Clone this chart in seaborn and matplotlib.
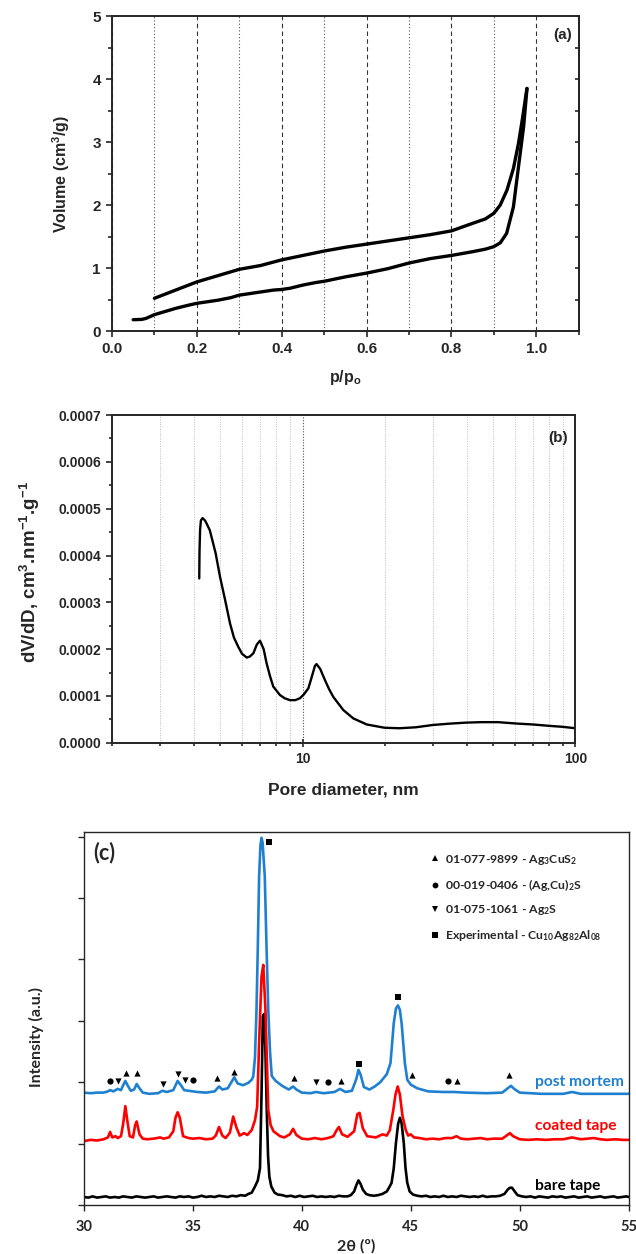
"""
plot.py

Three stacked panels: (a) N2 sorption isotherm, (b) BJH pore size distribution,
(c) XRD patterns of bare / coated / post mortem tape. Saved as out.png.
"""

import matplotlib
matplotlib.use("Agg")
import matplotlib.pyplot as plt
from matplotlib.lines import Line2D
from matplotlib.ticker import MultipleLocator, LogLocator, NullFormatter, FormatStrFormatter
import seaborn as sns

# ---------------- (a) isotherm ----------------
p_ads = [0.05, 0.07, 0.08, 0.10, 0.12, 0.15, 0.18, 0.20, 0.23, 0.25, 0.28, 0.30, 0.33, 0.35,
         0.38, 0.40, 0.42, 0.45, 0.48, 0.50, 0.55, 0.60, 0.65, 0.70, 0.75, 0.80, 0.85, 0.88,
         0.90, 0.915, 0.93, 0.946, 0.958, 0.97, 0.978]
v_ads = [0.18, 0.185, 0.20, 0.26, 0.30, 0.36, 0.41, 0.44, 0.47, 0.49, 0.53, 0.57, 0.60, 0.62,
         0.65, 0.66, 0.68, 0.73, 0.77, 0.79, 0.86, 0.92, 0.99, 1.08, 1.15, 1.20, 1.26, 1.30,
         1.34, 1.40, 1.55, 1.97, 2.61, 3.24, 3.85]
p_des = [0.978, 0.976, 0.968, 0.958, 0.946, 0.931, 0.915, 0.90, 0.88, 0.85, 0.80, 0.75, 0.70,
         0.65, 0.60, 0.55, 0.50, 0.45, 0.40, 0.35, 0.30, 0.25, 0.20, 0.15, 0.10]
v_des = [3.85, 3.77, 3.40, 2.98, 2.58, 2.24, 2.00, 1.87, 1.78, 1.71, 1.59, 1.53, 1.48,
         1.43, 1.38, 1.33, 1.27, 1.20, 1.13, 1.04, 0.98, 0.88, 0.78, 0.65, 0.52]

# ---------------- (b) pore size distribution ----------------
pore_d = [4.18, 4.19, 4.21, 4.24, 4.30, 4.40, 4.57, 4.80, 4.98, 5.20, 5.42, 5.60, 5.81, 6.00,
          6.24, 6.40, 6.60, 6.80, 6.98, 7.20, 7.38, 7.60, 7.81, 8.26, 8.60, 8.99, 9.40, 9.78,
          10.1, 10.5, 10.8, 11.1, 11.25, 11.6, 12.08, 12.5, 12.96, 14.1, 15.35, 17.2, 20.0,
          22.7, 26.0, 30.1, 35.0, 39.9, 45.4, 52.0, 61.0, 70.0, 80.7, 90.0, 100.0]
dv_dd = [3.51, 4.10, 4.55, 4.75, 4.80, 4.74, 4.54, 4.05, 3.55, 3.05, 2.55, 2.25, 2.05, 1.90,
         1.82, 1.84, 1.91, 2.10, 2.18, 2.00, 1.70, 1.42, 1.20, 1.02, 0.95, 0.91, 0.91, 0.95,
         1.03, 1.16, 1.40, 1.64, 1.68, 1.58, 1.34, 1.15, 0.98, 0.70, 0.52, 0.39, 0.32,
         0.31, 0.33, 0.38, 0.41, 0.43, 0.44, 0.44, 0.41, 0.39, 0.36, 0.34, 0.31]
dv_dd = [v * 1e-4 for v in dv_dd]

# ---------------- (c) XRD ----------------
bare_tape = [
    (30.0, .13), (30.2, .12), (30.4, .14), (30.6, .12), (30.8, .13), (31.0, .14), (31.2, .12),
    (31.4, .13), (31.6, .12), (31.8, .14), (32.0, .13), (32.2, .12), (32.4, .14), (32.6, .13),
    (32.8, .12), (33.0, .13), (33.2, .14), (33.4, .12), (33.6, .13), (33.8, .14), (34.0, .13),
    (34.2, .12), (34.4, .14), (34.6, .13), (34.8, .14), (35.0, .12), (35.2, .13), (35.4, .15),
    (35.6, .13), (35.8, .14), (36.0, .13), (36.2, .15), (36.4, .14), (36.6, .13), (36.8, .15),
    (37.0, .14), (37.2, .16), (37.4, .15), (37.55, .18), (37.7, .20), (37.85, .30), (37.98, .40),
    (38.08, .60), (38.15, 1.80), (38.21, 3.07), (38.27, 3.11), (38.33, 2.50), (38.39, 1.55),
    (38.45, .80), (38.51, .46), (38.6, .30), (38.75, .20), (38.9, .17), (39.1, .16), (39.3, .14),
    (39.5, .15), (39.7, .13), (39.9, .15), (40.1, .13), (40.3, .14), (40.5, .15), (40.7, .13),
    (40.9, .14), (41.1, .13), (41.3, .14), (41.5, .13), (41.7, .15), (41.9, .14), (42.1, .14),
    (42.25, .16), (42.4, .22), (42.5, .32), (42.6, .40), (42.7, .34), (42.8, .25), (42.95, .18),
    (43.1, .16), (43.3, .15), (43.5, .16), (43.7, .18), (43.9, .22), (44.0, .28), (44.12, .36),
    (44.22, .60), (44.32, 1.01), (44.42, 1.32), (44.5, 1.42), (44.58, 1.33), (44.68, 1.01),
    (44.76, .60), (44.84, .36), (44.95, .22), (45.1, .17), (45.3, .15), (45.5, .14), (45.7, .15),
    (45.9, .13), (46.1, .14), (46.3, .13), (46.5, .15), (46.7, .13), (46.9, .14), (47.1, .13),
    (47.3, .15), (47.5, .14), (47.7, .13), (47.9, .14), (48.1, .13), (48.3, .15), (48.5, .13),
    (48.7, .14), (48.9, .14), (49.1, .15), (49.3, .18), (49.45, .25), (49.55, .28), (49.65, .28),
    (49.75, .23), (49.9, .16), (50.1, .14), (50.3, .13), (50.5, .14), (50.7, .12), (50.9, .14),
    (51.1, .13), (51.3, .12), (51.5, .14), (51.7, .13), (51.9, .14), (52.1, .12), (52.3, .13),
    (52.5, .14), (52.7, .12), (52.9, .13), (53.1, .14), (53.3, .12), (53.5, .13), (53.7, .14),
    (53.9, .12), (54.1, .13), (54.3, .14), (54.5, .12), (54.7, .13), (54.9, .14), (55.0, .13),
]
coated_tape = [
    (30.0, 1.04), (30.3, 1.06), (30.6, 1.05), (30.9, 1.07), (31.1, 1.10), (31.2, 1.19), (31.3, 1.10),
    (31.45, 1.12), (31.55, 1.09), (31.7, 1.12), (31.8, 1.32), (31.9, 1.61), (32.0, 1.35), (32.1, 1.12),
    (32.25, 1.10), (32.35, 1.30), (32.42, 1.36), (32.55, 1.15), (32.7, 1.08), (32.9, 1.07), (33.2, 1.08),
    (33.5, 1.10), (33.65, 1.08), (33.9, 1.10), (34.1, 1.20), (34.2, 1.42), (34.3, 1.51), (34.4, 1.42),
    (34.55, 1.12), (34.8, 1.09), (35.0, 1.08), (35.3, 1.09), (35.6, 1.07), (35.9, 1.08), (36.05, 1.13),
    (36.2, 1.27), (36.35, 1.13), (36.5, 1.09), (36.7, 1.18), (36.85, 1.44), (37.0, 1.26), (37.15, 1.13),
    (37.35, 1.17), (37.5, 1.14), (37.7, 1.22), (37.85, 1.38), (37.95, 1.60), (38.04, 2.64), (38.15, 3.72),
    (38.23, 3.91), (38.33, 3.18), (38.46, 1.55), (38.57, 1.30), (38.7, 1.20), (38.85, 1.16), (39.0, 1.12),
    (39.2, 1.10), (39.45, 1.15), (39.6, 1.24), (39.75, 1.14), (40.0, 1.08), (40.3, 1.07), (40.6, 1.09),
    (40.9, 1.07), (41.2, 1.09), (41.45, 1.12), (41.6, 1.22), (41.7, 1.27), (41.85, 1.15), (42.1, 1.11),
    (42.4, 1.20), (42.55, 1.48), (42.65, 1.50), (42.8, 1.25), (43.0, 1.12), (43.2, 1.11), (43.4, 1.10),
    (43.7, 1.15), (43.9, 1.13), (44.04, 1.22), (44.2, 1.55), (44.3, 1.80), (44.4, 1.93), (44.5, 1.80),
    (44.62, 1.45), (44.77, 1.22), (44.88, 1.13), (45.0, 1.15), (45.15, 1.10), (45.4, 1.09), (45.7, 1.07),
    (46.0, 1.08), (46.3, 1.07), (46.6, 1.09), (46.9, 1.09), (47.1, 1.12), (47.3, 1.08), (47.6, 1.07),
    (47.9, 1.08), (48.2, 1.09), (48.5, 1.07), (48.8, 1.08), (49.2, 1.08), (49.4, 1.13), (49.55, 1.17),
    (49.7, 1.12), (50.0, 1.07), (50.4, 1.06), (50.8, 1.07), (51.2, 1.06), (51.6, 1.07), (52.0, 1.07),
    (52.4, 1.10), (52.8, 1.07), (53.1, 1.08), (53.4, 1.09), (53.7, 1.07), (54.0, 1.06), (54.4, 1.07),
    (54.7, 1.06), (55.0, 1.06),
]
post_mortem = [
    (30.0, 1.83), (30.3, 1.82), (30.6, 1.83), (30.9, 1.83), (31.1, 1.85), (31.2, 1.87), (31.35, 1.85),
    (31.55, 1.89), (31.7, 1.87), (31.8, 1.95), (31.9, 2.02), (32.0, 1.95), (32.15, 1.86), (32.3, 1.88),
    (32.42, 1.97), (32.55, 1.90), (32.7, 1.83), (33.0, 1.81), (33.4, 1.82), (33.6, 1.86), (33.8, 1.84),
    (34.1, 1.87), (34.3, 2.02), (34.45, 1.95), (34.6, 1.87), (34.8, 1.86), (35.2, 1.84), (35.6, 1.83),
    (36.0, 1.85), (36.2, 1.93), (36.35, 1.88), (36.6, 1.90), (36.8, 2.02), (36.9, 2.08), (37.05, 1.98),
    (37.3, 1.95), (37.55, 1.99), (37.7, 2.04), (37.77, 2.09), (37.85, 2.40), (37.92, 3.18), (37.98, 4.20),
    (38.04, 5.35), (38.1, 5.85), (38.15, 5.98), (38.2, 5.90), (38.3, 5.35), (38.38, 4.20), (38.46, 3.18),
    (38.54, 2.50), (38.62, 2.10), (38.8, 2.02), (39.1, 1.94), (39.4, 1.88), (39.6, 1.93), (39.75, 1.88),
    (40.0, 1.83), (40.4, 1.82), (40.65, 1.84), (41.0, 1.82), (41.5, 1.84), (41.75, 1.89), (42.0, 1.84),
    (42.3, 1.86), (42.5, 2.05), (42.6, 2.20), (42.7, 2.12), (42.85, 1.92), (43.1, 1.88), (43.35, 1.93),
    (43.6, 2.00), (43.9, 2.13), (44.07, 2.31), (44.22, 2.96), (44.32, 3.20), (44.41, 3.25), (44.5, 3.18),
    (44.58, 2.96), (44.73, 2.31), (44.84, 2.04), (45.0, 1.96), (45.3, 1.90), (45.8, 1.85), (46.5, 1.84),
    (47.0, 1.84), (47.5, 1.83), (48.5, 1.82), (49.2, 1.83), (49.45, 1.90), (49.6, 1.94), (49.75, 1.89),
    (50.0, 1.83), (51.0, 1.81), (52.0, 1.81), (52.4, 1.84), (52.8, 1.81), (54.0, 1.81), (55.0, 1.81),
]

# phase markers above the post mortem pattern
ag3cus2_x = [31.91, 32.45, 36.12, 36.9, 39.64, 41.82, 45.08, 47.1, 49.49]
ag3cus2_y = [2.15, 2.15, 2.06, 2.17, 2.06, 2.02, 2.11, 2.02, 2.11]
agcus_x = [31.19, 34.99, 41.2, 46.72]
agcus_y = [2.02, 2.04, 2.01, 2.02]
ag2s_x = [31.55, 33.64, 34.33, 34.65, 40.65]
ag2s_y = [2.02, 1.97, 2.13, 2.04, 2.01]
alloy_x = [38.5, 42.62, 44.41]
alloy_y = [5.91, 2.30, 3.39]

phase_labels = ["01-077-9899 - Ag$_3$CuS$_2$",
                "00-019-0406 - (Ag,Cu)$_2$S",
                "01-075-1061 - Ag$_2$S",
                "Experimental - Cu$_{10}$Ag$_{82}$Al$_{08}$"]
curve_labels = ["post mortem", "coated tape", "bare tape"]
xrd_ticks = [30, 35, 40, 45, 50, 55]

BLUE = "#1F80D0"
RED = "#FF0000"

sns.set_theme(style="ticks")
plt.rcParams['font.family'] = ['Liberation Sans', 'DejaVu Sans']
plt.rcParams['mathtext.default'] = 'regular'
plt.rcParams['axes.linewidth'] = 1.4

fig = plt.figure(figsize=(6.36, 12.54), dpi=100)

# ================= panel (a) =================
ax_a = fig.add_axes([0.176, 0.736, 0.734, 0.2512])
sns.lineplot(x=p_ads, y=v_ads, sort=False, estimator=None, color='black', lw=2.4, ax=ax_a)
sns.lineplot(x=p_des, y=v_des, sort=False, estimator=None, color='black', lw=2.4, ax=ax_a)
ax_a.set_xlim(0, 1.1)
ax_a.set_ylim(0, 5)
ax_a.xaxis.set_major_locator(MultipleLocator(0.2))
ax_a.xaxis.set_minor_locator(MultipleLocator(0.1))
ax_a.yaxis.set_major_locator(MultipleLocator(1))
ax_a.yaxis.set_minor_locator(MultipleLocator(0.5))
ax_a.xaxis.set_major_formatter(FormatStrFormatter('%.1f'))
ax_a.grid(which='major', axis='x', ls=(0, (4, 3)), color='#333333', lw=0.8)
ax_a.grid(which='minor', axis='x', ls=(0, (1, 2)), color='#555555', lw=0.8)
ax_a.tick_params(which='both', direction='out', width=1.2, labelsize=11)
ax_a.tick_params(which='major', length=4.5)
ax_a.tick_params(which='minor', length=3)
for lab in ax_a.get_xticklabels() + ax_a.get_yticklabels():
    lab.set_fontweight('bold')
sec = ax_a.secondary_yaxis('right')
sec.yaxis.set_major_locator(MultipleLocator(1))
sec.yaxis.set_minor_locator(MultipleLocator(0.5))
sec.tick_params(which='both', direction='in', labelright=False, width=1.2, length=3)
ax_a.set_xlabel('p/p$_o$', fontsize=11.5, fontweight='bold')
ax_a.set_ylabel('Volume (cm$^3$/g)', fontsize=11.5, fontweight='bold')
ax_a.xaxis.set_label_coords(0.5, -0.146)
ax_a.xaxis.label.set_va('center')
ax_a.yaxis.set_label_coords(-0.109, 0.5)
ax_a.yaxis.label.set_va('center')
ax_a.text(0.985, 0.962, '(a)', transform=ax_a.transAxes, ha='right', va='top',
          fontsize=11, fontweight='bold')

# ================= panel (b) =================
ax_b = fig.add_axes([0.176, 0.4077, 0.7285, 0.2613])
sns.lineplot(x=pore_d, y=dv_dd, sort=False, estimator=None, color='black', lw=1.7, ax=ax_b)
ax_b.set_xscale('log')
ax_b.set_xlim(2, 100)
ax_b.set_ylim(0, 0.0007)
ax_b.xaxis.set_major_locator(LogLocator(base=10, subs=(1.0,)))
ax_b.xaxis.set_minor_locator(LogLocator(base=10, subs=(2, 3, 4, 5, 6, 7, 8, 9)))
ax_b.xaxis.set_major_formatter(FormatStrFormatter('%g'))
ax_b.xaxis.set_minor_formatter(NullFormatter())
ax_b.yaxis.set_major_locator(MultipleLocator(0.0001))
ax_b.yaxis.set_minor_locator(MultipleLocator(0.00005))
ax_b.yaxis.set_major_formatter(FormatStrFormatter('%.4f'))
ax_b.grid(which='minor', axis='x', ls=(0, (1, 1.5)), color='#BBBBBB', lw=0.7)
ax_b.grid(which='major', axis='x', ls=(0, (1, 1.5)), color='#555555', lw=0.8)
ax_b.tick_params(which='both', direction='out', width=1.2, labelsize=10)
ax_b.tick_params(axis='x', which='major', direction='inout', length=6)
ax_b.tick_params(which='minor', length=2.5)
ax_b.tick_params(axis='y', which='major', length=4.5)
for lab in ax_b.get_xticklabels() + ax_b.get_yticklabels():
    lab.set_fontweight('bold')
ax_b.set_xlabel('Pore diameter, nm', fontsize=12.5, fontweight='bold')
ax_b.set_ylabel('dV/dD, cm$^3$.nm$^{-1}$.g$^{-1}$', fontsize=13.5, fontweight='bold')
ax_b.xaxis.set_label_coords(0.5, -0.144)
ax_b.xaxis.label.set_va('center')
ax_b.yaxis.set_label_coords(-0.177, 0.52)
ax_b.yaxis.label.set_va('center')
ax_b.text(0.983, 0.952, '(b)', transform=ax_b.transAxes, ha='right', va='top',
          fontsize=11, fontweight='bold')

# ================= panel (c) =================
CAL = ['Lato', 'DejaVu Sans']
ax_c = fig.add_axes([0.132, 0.0391, 0.8564, 0.2977])
for series, col in [(bare_tape, 'black'), (coated_tape, RED), (post_mortem, BLUE)]:
    xs = [pt[0] for pt in series]
    ys = [pt[1] for pt in series]
    sns.lineplot(x=xs, y=ys, sort=False, estimator=None, color=col, lw=1.9, ax=ax_c)

mk = dict(color='black', s=20, linewidth=0, ax=ax_c, zorder=5)
sns.scatterplot(x=ag3cus2_x, y=ag3cus2_y, marker='^', **mk)
sns.scatterplot(x=agcus_x, y=agcus_y, marker='o', **mk)
sns.scatterplot(x=ag2s_x, y=ag2s_y, marker='v', **mk)
sns.scatterplot(x=alloy_x, y=alloy_y, marker='s', **mk)

ax_c.set_xlim(30, 55)
ax_c.set_ylim(0, 6.08)
ax_c.set_xticks(xrd_ticks)
ax_c.set_xticklabels([str(t) for t in xrd_ticks], fontsize=10.5, fontweight='bold', family=CAL)
ax_c.yaxis.set_major_locator(MultipleLocator(1))
ax_c.set_yticklabels([])
for sp in ax_c.spines.values():
    sp.set_linewidth(1.0)
ax_c.tick_params(which='both', direction='out', width=1.0, length=4)
ax_c.tick_params(axis='x', pad=7)
ax_c.set_xlabel('2θ (º)', fontsize=11.5, fontweight='bold', family=CAL)
ax_c.set_ylabel('Intensity (a.u.)', fontsize=11.5, fontweight='bold', family=CAL)
ax_c.xaxis.set_label_coords(0.5, -0.11)
ax_c.xaxis.label.set_va('center')
ax_c.yaxis.set_label_coords(-0.0863, 0.45)
ax_c.yaxis.label.set_va('center')
ax_c.text(0.017, 0.945, '(c)', transform=ax_c.transAxes, ha='left', va='center',
          fontsize=15.5, fontweight='bold', family=CAL)

handles = [Line2D([], [], ls='none', marker=m, color='black', ms=4.2, markeredgewidth=0)
           for m in ['^', 'o', 'v', 's']]
ax_c.legend(handles, phase_labels, loc='upper left', bbox_to_anchor=(0.625, 0.96),
            frameon=False, borderpad=0, handlelength=0.7, handletextpad=0.5,
            labelspacing=0.85, prop=dict(family=CAL, weight='bold', size=8.8))

for label, col, yv in zip(curve_labels, [BLUE, RED, 'black'], [2.01, 1.29, 0.31]):
    ax_c.text(50.7, yv, label, color=col, va='center', ha='left', fontsize=11.2,
              fontweight='bold', family=CAL)

fig.savefig('out.png', dpi=100)
